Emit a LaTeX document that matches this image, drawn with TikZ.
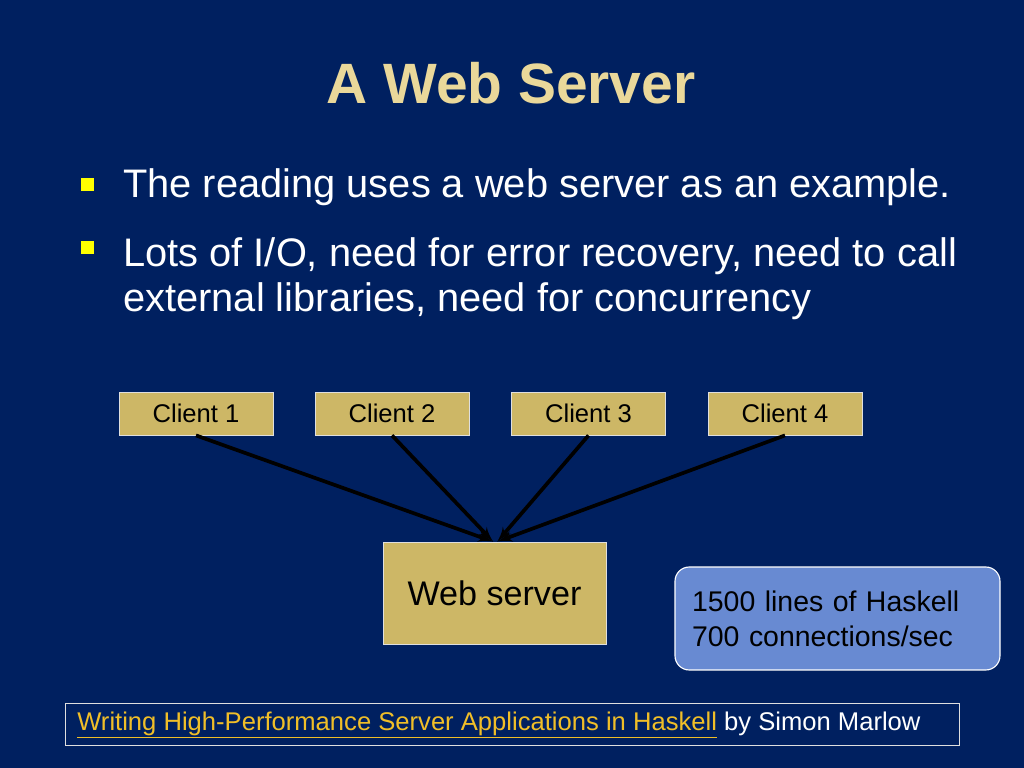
\documentclass[tikz,border=0pt]{standalone}
\usepackage{fontspec}
\setmainfont{Liberation Sans}
\usetikzlibrary{arrows}
\usetikzlibrary{positioning}
\definecolor{slideblue}{RGB}{0,32,96}
\definecolor{titlegold}{RGB}{234,216,154}
\definecolor{boxgold}{RGB}{205,183,102}
\definecolor{noteblue}{RGB}{104,138,210}
\definecolor{linkgold}{RGB}{240,190,40}
\definecolor{bullyellow}{RGB}{255,255,0}
\tikzset{
  client/.style={draw=white!75!gray, line width=0.6pt, fill=boxgold,
    minimum width=108.3pt, minimum height=30.2pt, inner sep=0pt,
    font=\fontsize{18}{21.6}\selectfont},
  server/.style={draw=white!75!gray, line width=0.6pt, fill=boxgold,
    minimum width=156.8pt, minimum height=71.7pt, inner sep=0pt,
    font=\fontsize{24}{28.8}\selectfont},
  note/.style={draw=white, line width=0.8pt, fill=noteblue, rounded corners=10pt,
    minimum width=228.5pt, minimum height=72.4pt, inner xsep=12pt,
    text width=204.5pt, align=left, font=\fontsize{20}{24.6}\selectfont},
  bullet/.style={fill=bullyellow, minimum size=9.1pt, inner sep=0pt},
  itemtext/.style={anchor=base west, text=white, inner sep=0pt,
    font=\fontsize{28}{31.6}\selectfont},
  conn/.style={-latex', line width=2.6pt, black}
}
\begin{document}
\begin{tikzpicture}[x=0.703125pt, y=-0.703125pt]
    \fill [slideblue] (0, 0) rectangle (1024, 768);
    \useasboundingbox (0, 0) rectangle (1024, 768);

    \node [anchor=base, text=titlegold, inner sep=0pt, font=\fontsize{40}{48}\bfseries] (title) at (511, 104) {A Web Server};

    \node [bullet] (bul1) at (87.5, 184.5) {};
    \node [itemtext] (item1) at (123, 198) {The reading uses a web server as an example.};
    \node [bullet] (bul2) at (87.5, 247.5) {};
    \node [itemtext] (item2) at (123, 267) {Lots of I/O, need for error recovery, need to call};
    \node [itemtext] (item3) at (123, 312) {external libraries, need for concurrency};

    \node [client] (c1) at (196, 413.5) {Client 1};
    \node [client] (c2) at (392, 413.5) {Client 2};
    \node [client] (c3) at (588.5, 413.5) {Client 3};
    \node [client] (c4) at (785, 413.5) {Client 4};

    \node [server] (web) at (494.5, 593) {Web server};
    \coordinate (inL) at ([xshift=-1pt]web.north);
    \coordinate (inR) at ([xshift=2pt]web.north);

    \draw [conn] (c1.south) -- (inL);
    \draw [conn] (c2.south) -- (inL);
    \draw [conn] (c3.south) -- (inR);
    \draw [conn] (c4.south) -- (inR);

    \node [note] (stats) at (837.5, 618.5) {1500 lines of Haskell\\700 connections/sec};

    \draw [white!75!gray, line width=0.6pt] (65, 703) rectangle (959, 745);
    \node [anchor=base west, inner sep=0pt, text=white, font=\fontsize{18}{21.6}\selectfont] (ref) at (77, 730)
      {\textcolor{linkgold}{\underline{Writing High-Performance Server Applications in Haskell}} by Simon Marlow};
  \end{tikzpicture}
\end{document}
